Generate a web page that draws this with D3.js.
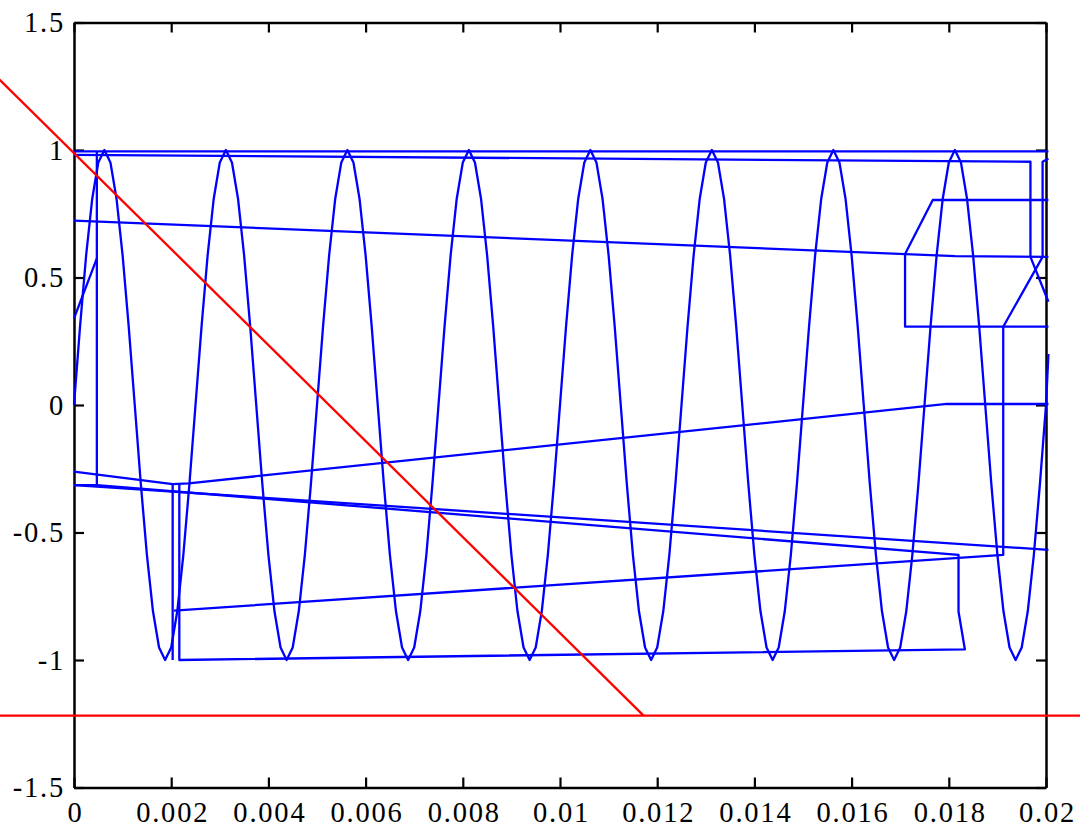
<!DOCTYPE html>
<html>
<head>
<meta charset="utf-8">
<script src="https://cdn.jsdelivr.net/npm/d3@7"></script>
<style>
  html, body { margin: 0; padding: 0; background: #fff; }
  svg { display: block; }
  .tick text { font-family: "Liberation Serif", "Times New Roman", serif; font-size: 28.5px; fill: #000; letter-spacing: 1.8px; }
</style>
</head>
<body>
<svg id="chart" width="1080" height="830"></svg>
<script>
// Sampled 400 Hz sine, 8 kHz sample rate, 0 .. 20 ms
const sampleTimes = [
  0, 0.000125, 0.00025, 0.000375, 0.0005, 0.000625, 0.00075, 0.000875, 0.001, 0.001125, 0.00125, 0.001375, 0.0015, 0.001625, 0.00175, 0.001875, 0.002, 0.002125, 0.00225, 0.002375,
  0.0025, 0.002625, 0.00275, 0.002875, 0.003, 0.003125, 0.00325, 0.003375, 0.0035, 0.003625, 0.00375, 0.003875, 0.004, 0.004125, 0.00425, 0.004375, 0.0045, 0.004625, 0.00475, 0.004875,
  0.005, 0.005125, 0.00525, 0.005375, 0.0055, 0.005625, 0.00575, 0.005875, 0.006, 0.006125, 0.00625, 0.006375, 0.0065, 0.006625, 0.00675, 0.006875, 0.007, 0.007125, 0.00725, 0.007375,
  0.0075, 0.007625, 0.00775, 0.007875, 0.008, 0.008125, 0.00825, 0.008375, 0.0085, 0.008625, 0.00875, 0.008875, 0.009, 0.009125, 0.00925, 0.009375, 0.0095, 0.009625, 0.00975, 0.009875,
  0.01, 0.010125, 0.01025, 0.010375, 0.0105, 0.010625, 0.01075, 0.010875, 0.011, 0.011125, 0.01125, 0.011375, 0.0115, 0.011625, 0.01175, 0.011875, 0.012, 0.012125, 0.01225, 0.012375,
  0.0125, 0.012625, 0.01275, 0.012875, 0.013, 0.013125, 0.01325, 0.013375, 0.0135, 0.013625, 0.01375, 0.013875, 0.014, 0.014125, 0.01425, 0.014375, 0.0145, 0.014625, 0.01475, 0.014875,
  0.015, 0.015125, 0.01525, 0.015375, 0.0155, 0.015625, 0.01575, 0.015875, 0.016, 0.016125, 0.01625, 0.016375, 0.0165, 0.016625, 0.01675, 0.016875, 0.017, 0.017125, 0.01725, 0.017375,
  0.0175, 0.017625, 0.01775, 0.017875, 0.018, 0.018125, 0.01825, 0.018375, 0.0185, 0.018625, 0.01875, 0.018875, 0.019, 0.019125, 0.01925, 0.019375, 0.0195, 0.019625, 0.01975, 0.019875,
  0.02
];
const sampleValues = [
  0, 0.309, 0.588, 0.809, 0.951, 1, 0.951, 0.809, 0.588, 0.309, 0, -0.309, -0.588, -0.809, -0.951, -1, -0.951, -0.809, -0.588, -0.309,
  0, 0.309, 0.588, 0.809, 0.951, 1, 0.951, 0.809, 0.588, 0.309, 0, -0.309, -0.588, -0.809, -0.951, -1, -0.951, -0.809, -0.588, -0.309,
  0, 0.309, 0.588, 0.809, 0.951, 1, 0.951, 0.809, 0.588, 0.309, 0, -0.309, -0.588, -0.809, -0.951, -1, -0.951, -0.809, -0.588, -0.309,
  0, 0.309, 0.588, 0.809, 0.951, 1, 0.951, 0.809, 0.588, 0.309, 0, -0.309, -0.588, -0.809, -0.951, -1, -0.951, -0.809, -0.588, -0.309,
  0, 0.309, 0.588, 0.809, 0.951, 1, 0.951, 0.809, 0.588, 0.309, 0, -0.309, -0.588, -0.809, -0.951, -1, -0.951, -0.809, -0.588, -0.309,
  0, 0.309, 0.588, 0.809, 0.951, 1, 0.951, 0.809, 0.588, 0.309, 0, -0.309, -0.588, -0.809, -0.951, -1, -0.951, -0.809, -0.588, -0.309,
  0, 0.309, 0.588, 0.809, 0.951, 1, 0.951, 0.809, 0.588, 0.309, 0, -0.309, -0.588, -0.809, -0.951, -1, -0.951, -0.809, -0.588, -0.309,
  0, 0.309, 0.588, 0.809, 0.951, 1, 0.951, 0.809, 0.588, 0.309, 0, -0.309, -0.588, -0.809, -0.951, -1, -0.951, -0.809, -0.588, -0.309,
  0
];

// Out-of-order sample traces, [time, value]
const traceTop      = [[0, 0.995], [0.02005, 0.995]];
const traceUpper    = [[0, 0.981], [0.01968, 0.954], [0.01968, 0.581], [0.02005, 0.405]];
const traceMid      = [[0, 0.723], [0.01813, 0.584], [0.02005, 0.581]];
const traceStart    = [[0, 0.34], [0.00047, 0.575]];
const traceRiser    = [[0.00047, 0.995], [0.00047, -0.314]];
const traceLoop     = [[0, -0.314], [0.00047, -0.314], [0.0182, -0.588], [0.0182, -0.81], [0.01833, -0.958], [0.002167, -1], [0.002167, -0.31]];
const traceZero     = [[0, -0.261], [0.00203, -0.31], [0.00236, -0.307], [0.01796, 0.004], [0.02005, 0.004]];
const traceDrop     = [[0.00203, -0.31], [0.00203, -1]];
const traceClimb    = [[0.00206, -0.806], [0.01912, -0.588], [0.01912, 0.307], [0.01993, 0.581], [0.01993, 0.954], [0.02005, 0.967]];
const traceLow      = [[0, -0.314], [0.02005, -0.568]];
const traceStepUp   = [[0.0171, 0.592], [0.01767, 0.804], [0.02005, 0.804]];
const traceStepDown = [[0.0171, 0.592], [0.0171, 0.307], [0.02005, 0.307]];
const traceEnd      = [[0.02, 0], [0.02005, 0.2]];

// Reference ramp and floor
const rampLine  = [[-0.0016, 1.289], [0.01172, -1.218]];
const floorLine = [[-0.0016, -1.218], [0.0208, -1.218]];

// Axes
const xTickValues = [0, 0.002, 0.004, 0.006, 0.008, 0.01, 0.012, 0.014, 0.016, 0.018, 0.02];
const xTickLabels = ["0", "0.002", "0.004", "0.006", "0.008", "0.01", "0.012", "0.014", "0.016", "0.018", "0.02"];
const yTickValues = [-1.5, -1, -0.5, 0, 0.5, 1, 1.5];
const yTickLabels = ["-1.5", "-1", "-0.5", "0", "0.5", "1", "1.5"];

const svg = d3.select("#chart");
const x = d3.scaleLinear().domain([0, 0.02]).range([74, 1046]);
const y = d3.scaleLinear().domain([-1.5, 1.5]).range([787.5, 22.5]);

function styleAxis(g) {
  g.select(".domain").attr("stroke", "#000").attr("stroke-width", 2.5).attr("fill", "none");
  g.selectAll(".tick line").attr("stroke", "#000").attr("stroke-width", 2.2);
}

svg.append("g")
  .attr("transform", `translate(0,${y(-1.5)})`)
  .call(d3.axisBottom(x).tickValues(xTickValues).tickSize(-10).tickSizeOuter(0).tickPadding(14.4)
    .tickFormat((d, i) => xTickLabels[i]))
  .call(styleAxis)
  .call(g => g.selectAll(".tick text").attr("dx", 1));

svg.append("g")
  .attr("transform", `translate(0,${y(1.5)})`)
  .call(d3.axisTop(x).tickValues(xTickValues).tickSize(-10).tickSizeOuter(0).tickFormat(""))
  .call(styleAxis);

svg.append("g")
  .attr("transform", `translate(${x(0)},0)`)
  .call(d3.axisLeft(y).tickValues(yTickValues).tickSize(-10).tickSizeOuter(0).tickPadding(9)
    .tickFormat((d, i) => yTickLabels[i]))
  .call(styleAxis);

svg.append("g")
  .attr("transform", `translate(${x(0.02)},0)`)
  .call(d3.axisRight(y).tickValues(yTickValues).tickSize(-10).tickSizeOuter(0).tickFormat(""))
  .call(styleAxis);

const line = d3.line().x(d => x(d[0])).y(d => y(d[1]));

// Sine samples
const sineData = sampleTimes.map((t, i) => [t, sampleValues[i]]);
const blue = svg.append("g")
  .attr("fill", "none")
  .attr("stroke", "#0000ff")
  .attr("stroke-width", 2.3)
  .attr("stroke-linejoin", "round");

blue.append("path").attr("d", line(sineData));
[traceTop, traceUpper, traceMid, traceStart, traceRiser, traceLoop, traceZero, traceDrop,
 traceClimb, traceLow, traceStepUp, traceStepDown, traceEnd]
  .forEach(tr => blue.append("path").attr("d", line(tr)));

// Red ramp and floor
const red = svg.append("g")
  .attr("fill", "none")
  .attr("stroke", "#ff0000")
  .attr("stroke-width", 2.3);
red.append("path").attr("d", line(rampLine));
red.append("path").attr("d", line(floorLine));
</script>
</body>
</html>
